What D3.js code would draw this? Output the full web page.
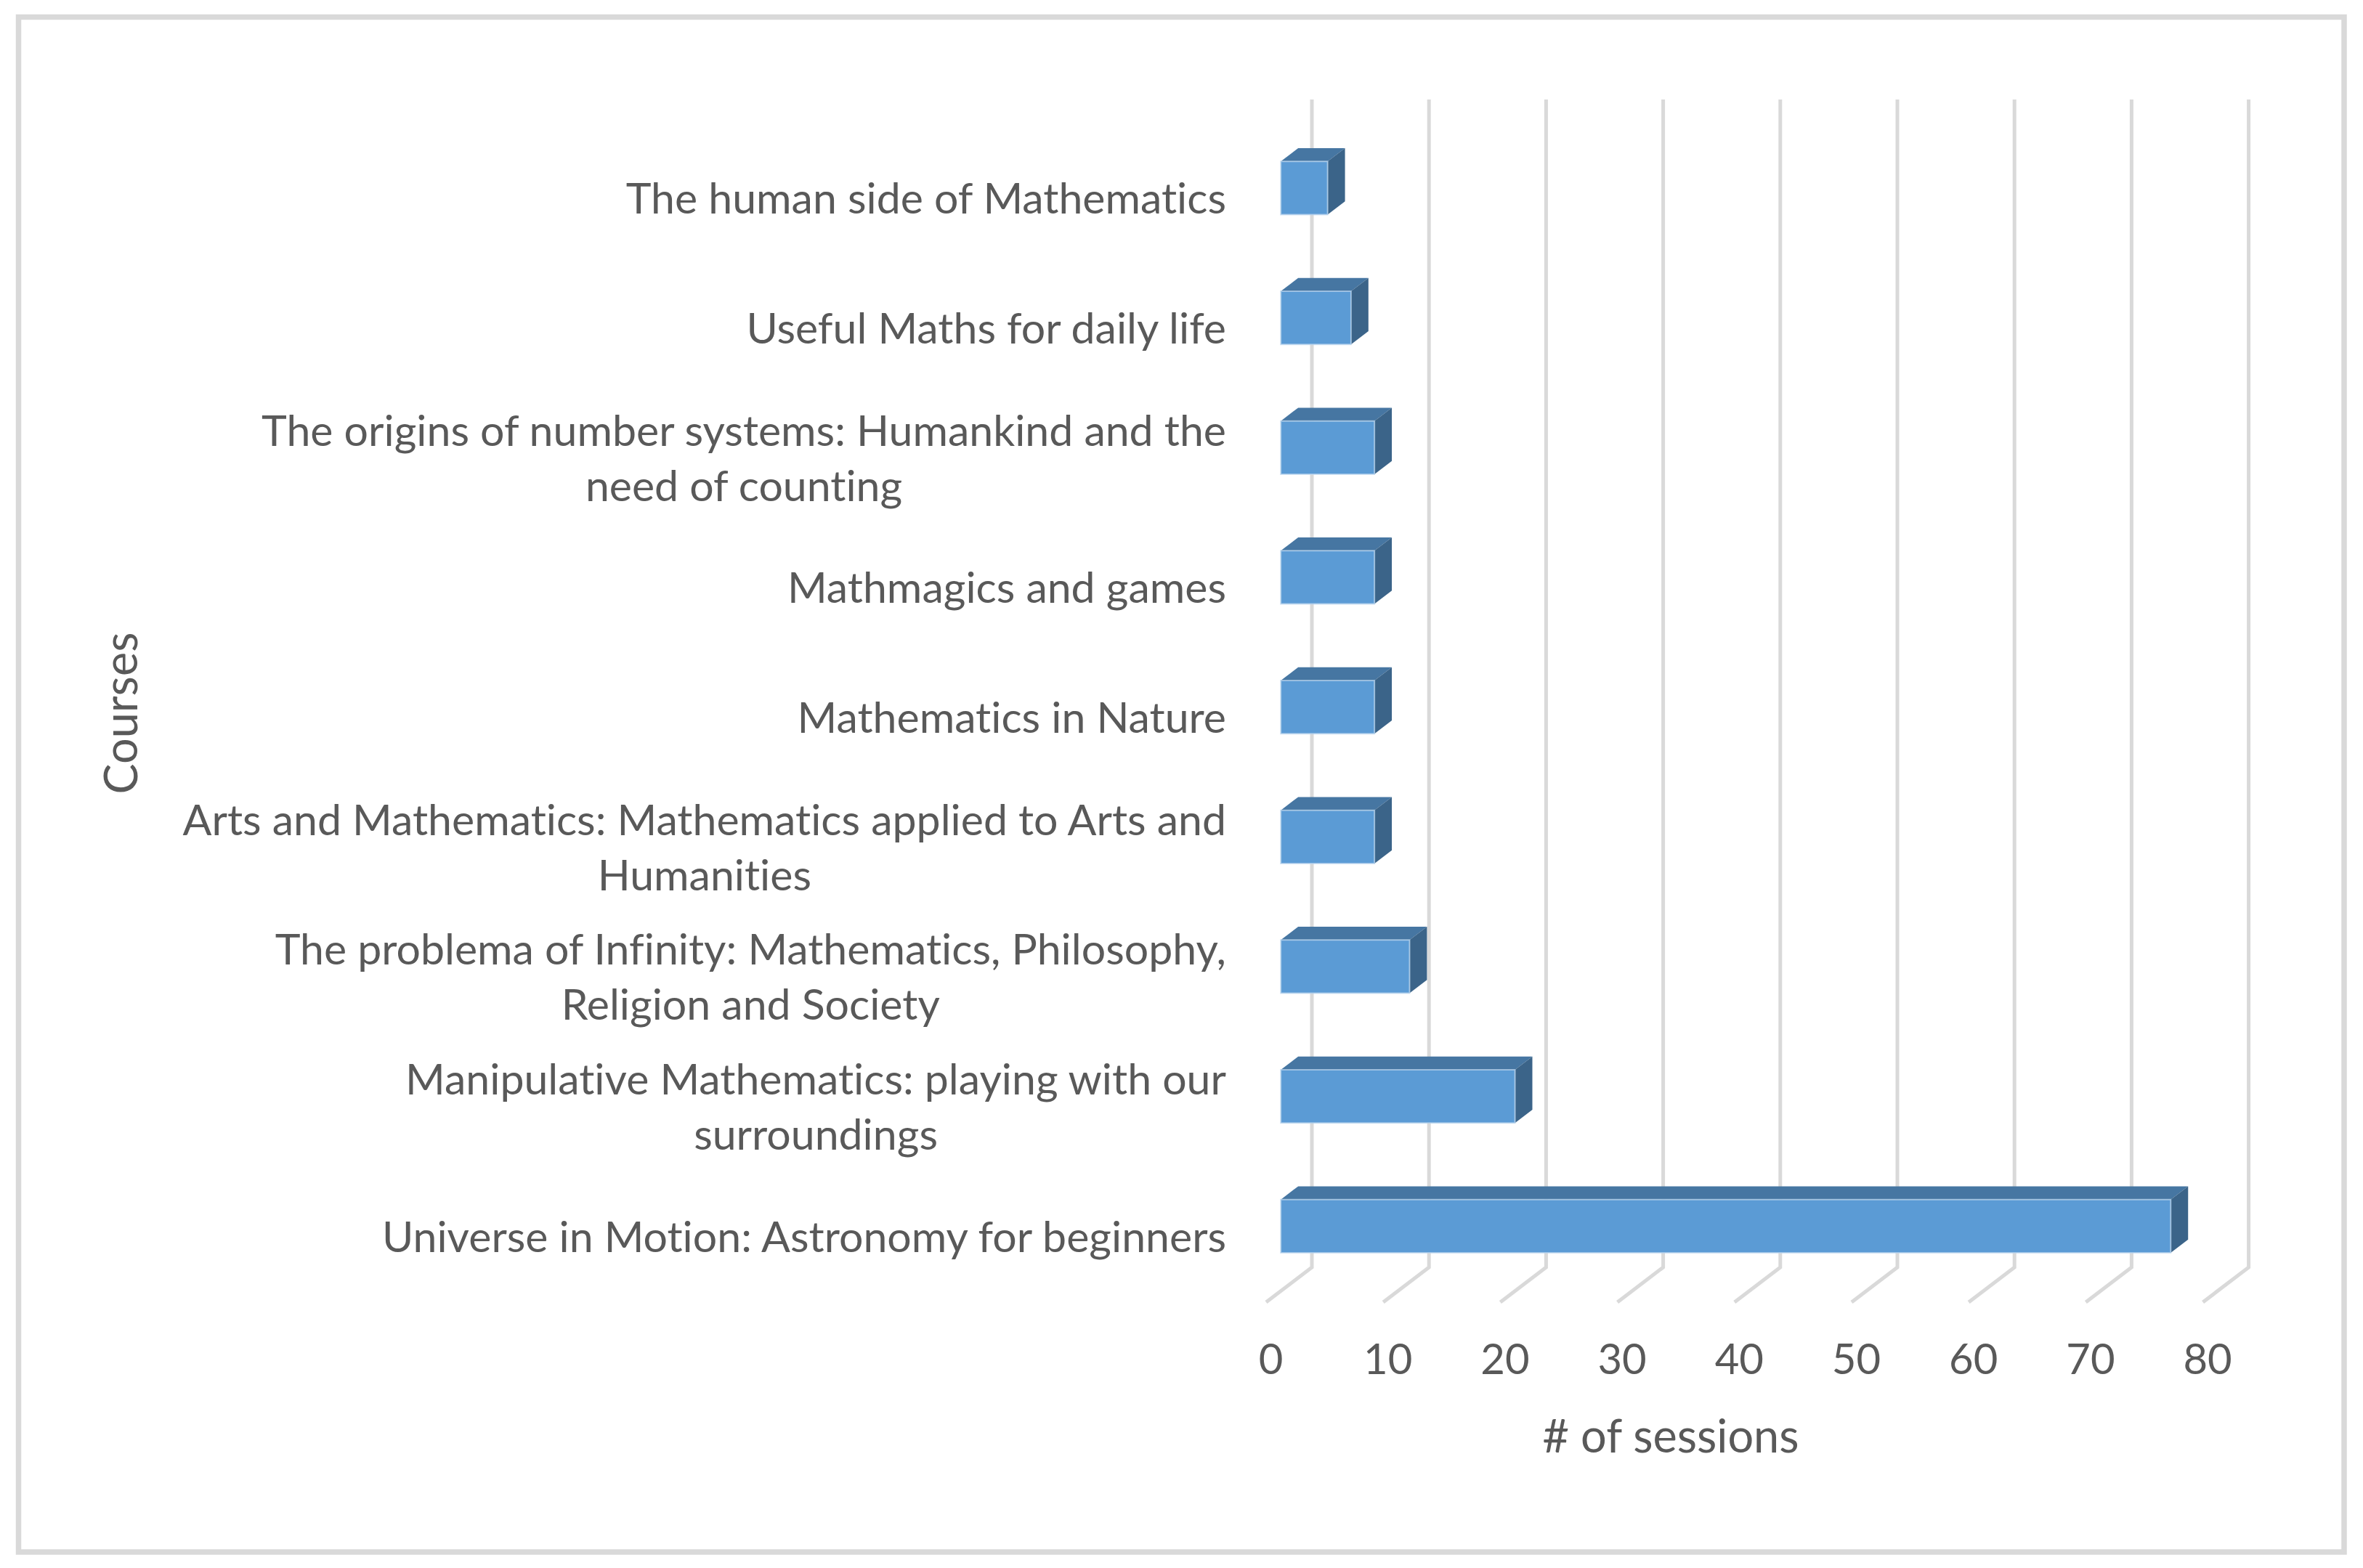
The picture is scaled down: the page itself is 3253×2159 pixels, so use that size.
<!DOCTYPE html>
<html>
<head>
<meta charset="utf-8">
<script src="https://cdn.jsdelivr.net/npm/d3@7"></script>
<style>
  html, body { margin: 0; padding: 0; background: #fff; }
  svg text { font-family: Lato, "Open Sans", sans-serif; fill: #595959; font-variant-ligatures: none; }
</style>
</head>
<body>
<svg id="chart" width="3253" height="2159"></svg>
<script>
// courses, top to bottom as in the chart
var courses = [
  "The human side of Mathematics",
  "Useful Maths for daily life",
  "The origins of number systems: Humankind and the need of counting",
  "Mathmagics and games",
  "Mathematics in Nature",
  "Arts and Mathematics: Mathematics applied to Arts and Humanities",
  "The problema of Infinity: Mathematics, Philosophy, Religion and Society",
  "Manipulative Mathematics: playing with our surroundings",
  "Universe in Motion: Astronomy for beginners"
];
// how each label wraps
var courseLines = [
  ["The human side of Mathematics"],
  ["Useful Maths for daily life"],
  ["The origins of number systems: Humankind and the", "need of counting"],
  ["Mathmagics and games"],
  ["Mathematics in Nature"],
  ["Arts and Mathematics: Mathematics applied to Arts and", "Humanities"],
  ["The problema of Infinity: Mathematics, Philosophy,", "Religion and Society"],
  ["Manipulative Mathematics: playing with our", "surroundings"],
  ["Universe in Motion: Astronomy for beginners"]
];
var sessions = [4, 6, 8, 8, 8, 8, 11, 20, 76];
var xTicks = [0, 10, 20, 30, 40, 50, 60, 70, 80];
var xTitle = "# of sessions";
var yTitle = "Courses";

var svg = d3.select('#chart');

// frame
svg.append('rect')
  .attr('x', 25.5).attr('y', 23.5)
  .attr('width', 3201.5).attr('height', 2113.5)
  .attr('fill', 'none')
  .attr('stroke', '#d9d9d9')
  .attr('stroke-width', 7.5);

// front plane scales; depth goes up-right
var x = d3.scaleLinear().domain([0, 80]).range([1743, 3032.6]);
var y = d3.scaleBand().domain(courses).range([185, 1793])
  .paddingInner(0.59).paddingOuter(0.295);
var depthX = 63, depthY = 48;
var barD0 = 0.32, barD1 = 0.70;

function pt(px, py, d) {
  return [px + d * depthX, py - d * depthY];
}

// gridlines: back wall + floor
var grid = svg.append('g')
  .attr('fill', 'none')
  .attr('stroke', '#d9d9d9')
  .attr('stroke-width', 5);

grid.selectAll('path')
  .data(xTicks)
  .enter()
  .append('path')
  .attr('d', function(v) {
    var top = pt(x(v), 185, 1);
    var bot = pt(x(v), 1793, 1);
    return 'M' + top + 'L' + bot + 'L' + [x(v), 1793];
  });

// bars
var bars = svg.append('g')
  .selectAll('g')
  .data(courses)
  .enter()
  .append('g');

function poly(points) {
  return points.map(function(p) { return p.join(','); }).join(' ');
}

bars.append('polygon')
  .attr('fill', '#4676a2')
  .attr('points', function(c, i) {
    var x0 = x(0), x1 = x(sessions[i]), yt = y(c);
    return poly([pt(x0, yt, barD0), pt(x1, yt, barD0), pt(x1, yt, barD1), pt(x0, yt, barD1)]);
  });

bars.append('polygon')
  .attr('fill', '#3b6489')
  .attr('points', function(c, i) {
    var x1 = x(sessions[i]), yt = y(c), yb = y(c) + y.bandwidth();
    return poly([pt(x1, yt, barD0), pt(x1, yt, barD1), pt(x1, yb, barD1), pt(x1, yb, barD0)]);
  });

bars.append('polygon')
  .attr('fill', '#5b9bd5')
  .attr('stroke', '#bcd5ee')
  .attr('stroke-width', 2)
  .attr('stroke-opacity', 0.7)
  .attr('points', function(c, i) {
    var x0 = x(0), x1 = x(sessions[i]), yt = y(c), yb = y(c) + y.bandwidth();
    return poly([pt(x0, yt, barD0), pt(x1, yt, barD0), pt(x1, yb, barD0), pt(x0, yb, barD0)]);
  });

// value axis labels
var xAxis = svg.append('g')
  .attr('transform', 'translate(6,1892)')
  .call(d3.axisBottom(x).tickValues(xTicks).tickSize(0).tickFormat(d3.format('d')));
xAxis.select('.domain').remove();
xAxis.selectAll('text')
  .attr('y', 0).attr('dy', 0)
  .style('font-size', '58px')
  .style('font-family', 'Lato, sans-serif')
  .attr('fill', '#595959');

// category labels: block right-aligned, lines centred
var labelRight = 1688, lineGap = 76, fs = 59;
var labels = svg.append('g')
  .selectAll('text')
  .data(courses)
  .enter()
  .append('text')
  .style('font-size', fs + 'px')
  .attr('text-anchor', 'middle');

labels.each(function(c, i) {
  var el = d3.select(this);
  var lines = courseLines[i];
  var mid = y(c) + y.bandwidth() / 2;
  var first = mid - (lines.length - 1) * lineGap / 2 + 20;
  lines.forEach(function(line, j) {
    el.append('tspan').attr('y', first + j * lineGap).text(line);
  });
  var w = 0;
  el.selectAll('tspan').each(function() {
    w = Math.max(w, this.getComputedTextLength());
  });
  el.selectAll('tspan').attr('x', labelRight - w / 2);
});

// axis titles
svg.append('text')
  .attr('x', 2300).attr('y', 2000)
  .attr('text-anchor', 'middle')
  .style('font-size', '63px')
  .text(xTitle);

svg.append('text')
  .attr('transform', 'translate(189,982) rotate(-90)')
  .attr('text-anchor', 'middle')
  .style('font-size', '63px')
  .text(yTitle);
</script>
</body>
</html>
